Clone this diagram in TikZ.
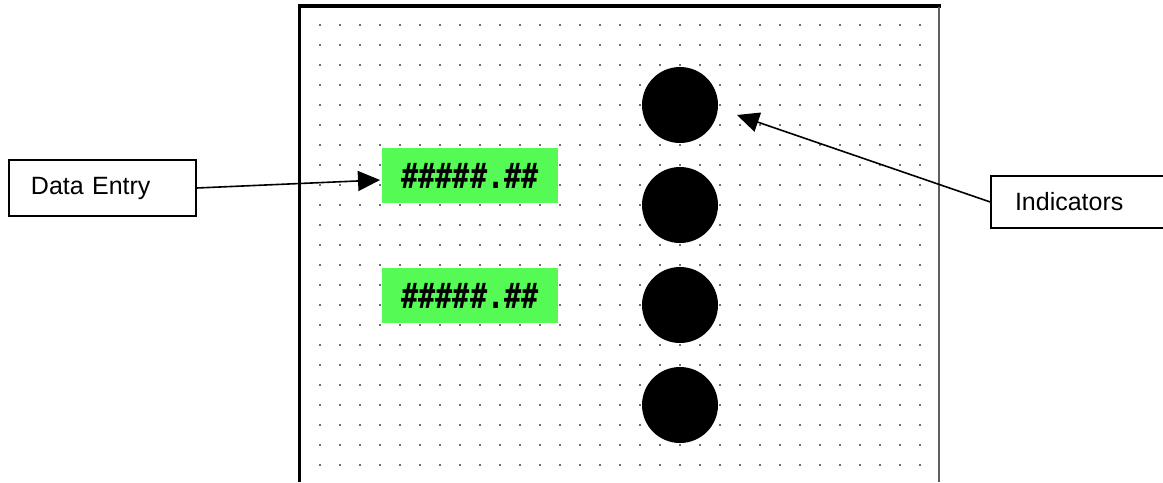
\documentclass[tikz,border=0pt]{standalone}
\usepackage{fontspec}
\setmainfont{Liberation Sans}
\newfontfamily\lcdfont{DejaVu Sans Mono}
\usetikzlibrary{arrows.meta}
\definecolor{lcdgreen}{RGB}{85,250,85}
\definecolor{dotgray}{RGB}{110,110,110}
\definecolor{framegray}{RGB}{95,95,95}
\begin{document}
\begin{tikzpicture}[x=0.75pt,y=-0.75pt,
  callout/.style={draw=black, line width=1.1pt, fill=white, rectangle, inner xsep=16.5pt,
    align=left, font=\fontsize{18.75}{22}\selectfont, anchor=center},
  lcd/.style={fill=lcdgreen, rectangle, minimum width=132pt, minimum height=41.25pt, inner sep=0pt,
    font=\lcdfont\bfseries\fontsize{21}{24}\selectfont},
  lamp/.style={circle, fill=black, minimum size=57pt, inner sep=0pt},
  pointer/.style={draw=black, line width=1.2pt, -{Triangle[length=16.5pt,width=15pt]}}]
\useasboundingbox (0,0) rectangle (1163,482);
% dotted grid
\foreach \i in {0,...,30}{
  \foreach \j in {0,...,22}{
    \fill[dotgray] (320+20*\i-1, 25+20*\j-1) rectangle ++(2,2);
  }
}
% frame
\draw[black, line width=2.4pt] (299.5,482) -- (299.5,6) -- (941,6);
\draw[framegray, line width=2.2pt] (939,7) -- (939,482);
% data entry fields
\node[lcd] (e1) at (470,175.5) {\raisebox{-1.5pt}{\scalebox{1.02}[1.25]{\#\#\#\#\#.\#\#}}};
\node[lcd] (e2) at (470,295.5) {\raisebox{-1.5pt}{\scalebox{1.02}[1.25]{\#\#\#\#\#.\#\#}}};
% indicators
\node[lamp] (c1) at (680,105) {};
\node[lamp] (c2) at (680,205) {};
\node[lamp] (c3) at (680,305) {};
\node[lamp] (c4) at (680,405) {};
% callouts
\node[callout, text width=107.25pt, minimum height=42pt] (de) at (102.5,188) {Data Entry};
\node[callout, text width=93.75pt, inner xsep=18pt, minimum height=39pt] (ind) at (1077.5,202) {Indicators};
\coordinate (detip) at (380,180);
\coordinate (indtip) at (737,115);
\draw[pointer] (de.east) -- (detip);
\draw[pointer] (ind.west) -- (indtip);
\end{tikzpicture}
\end{document}
